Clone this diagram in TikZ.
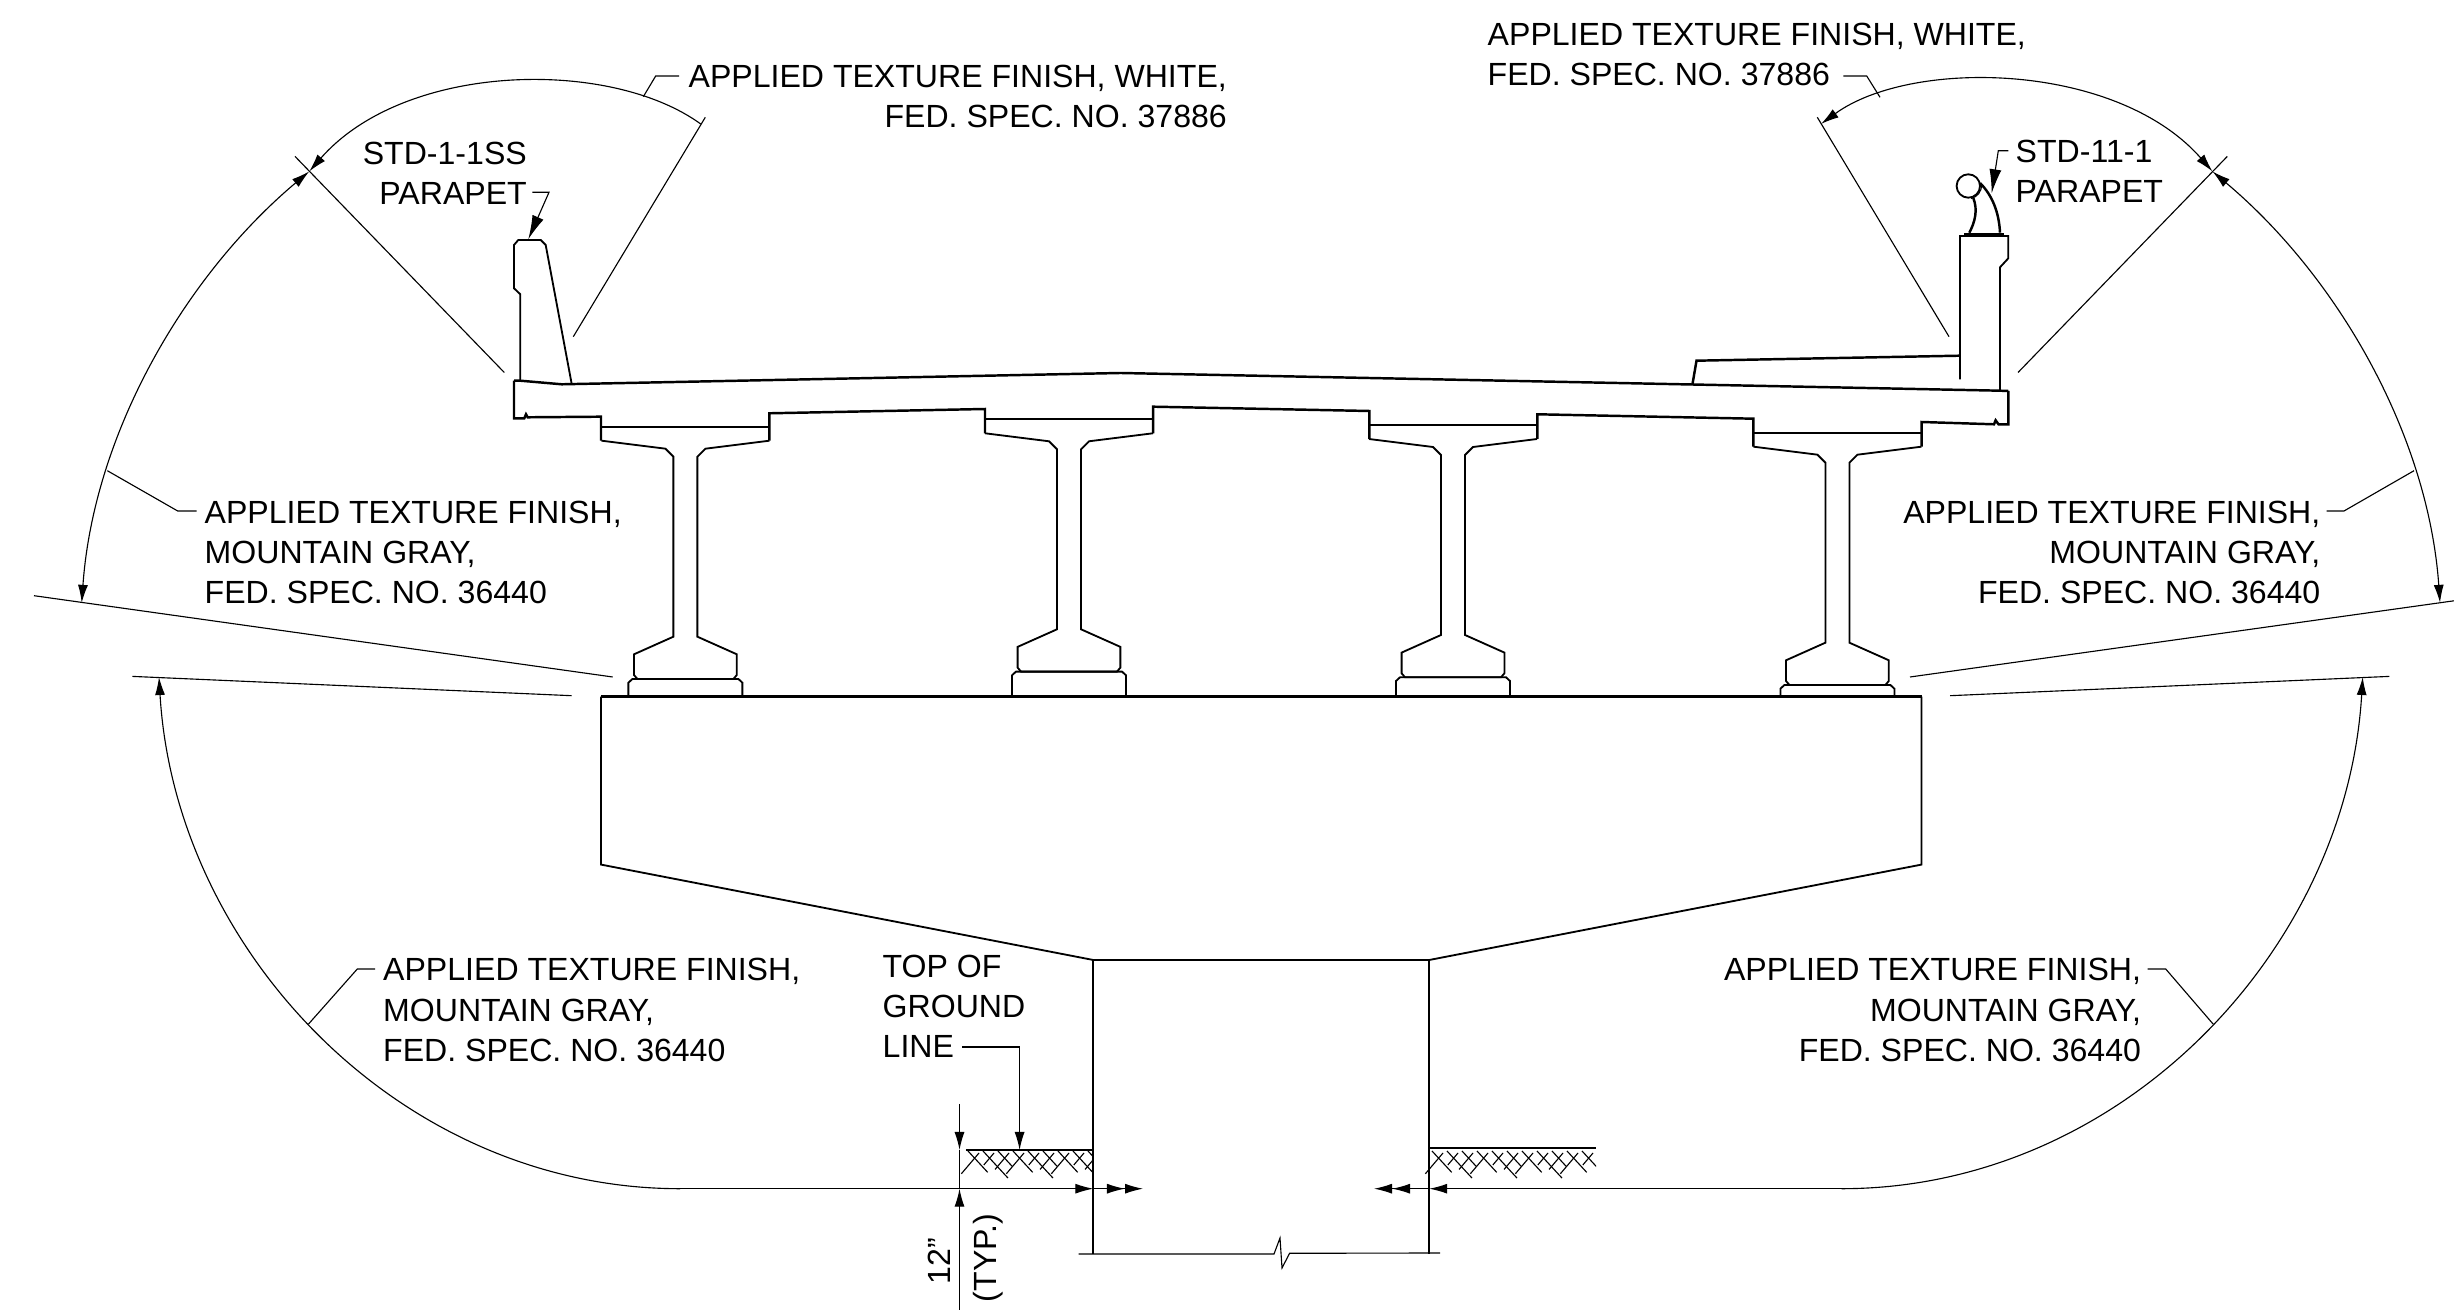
\documentclass[tikz,border=0pt]{standalone}
\usepackage{fontspec}
\setmainfont{Liberation Sans}
\usetikzlibrary{arrows.meta}

% one precast girder with its bearing pad, origin under the deck haunch
\newcommand{\girder}[2]{
    \begin{scope}[shift={(#1,#2)}]
        \pgfmathsetmacro{\padbase}{696.7-#2}
        \draw[outline] (-84,-14) -- (84,-14);
        \draw[outline] (-84,0) -- (-20,8) -- (-12,16) -- (-12,196) -- (-51.4,213.6)
            -- (-51.4,234.3) -- (-48,238.3) -- (48,238.3) -- (51.4,234.3) -- (51.4,213.6)
            -- (12,196) -- (12,16) -- (20,8) -- (84,0);
        \draw[outline] (-57,\padbase) -- (-57,242) -- (-53,238.3) -- (53,238.3) -- (57,242) -- (57,\padbase);
    \end{scope}
}
% hatching under a ground line
\newcommand{\groundhatch}[3]{
    \begin{scope}
        \clip (#1-8,1148) rectangle (#2,1180);
        \foreach \dx [count=\i] in {#1,#3,...,#2} {
            \pgfmathsetmacro{\len}{0.6+0.22*mod(\i,3)}
            \pgfmathsetmacro{\lenb}{0.6+0.22*mod(\i+1,3)}
            \draw[fine] (\dx,1151) -- ++(24*\len,26*\len);
            \draw[fine] (\dx+11,1153) -- ++(-17*\lenb,20*\lenb);
        }
    \end{scope}
}

\begin{document}
\begin{tikzpicture}[
    x=0.01cm, y=-0.01cm,
    >={Latex[length=1.8mm,width=1mm]},
    outline/.style={line width=0.52pt},
    heavy/.style={line width=0.7pt},
    fine/.style={line width=0.32pt},
    note/.style={font=\fontsize{9.12}{11.5}\selectfont, inner sep=0pt},
    pointer/.style={fine, -{Latex[length=2.4mm,width=1.2mm]}}
]
    \useasboundingbox (0,0) rectangle (2454,1310);

    % Deck
    \draw[heavy] (514,380.7) -- (520.3,380.7) -- (561.7,384.3) -- (1120.6,373) -- (2000,390.7) -- (2008.3,391);
    \draw[heavy] (514,380.7) -- (514,418.3) -- (524.3,418.3) -- (526,414.3) -- (527.7,417.3) -- (601,416.7) -- (601,440.7);
    \draw[heavy] (769.3,440.7) -- (769.3,413.3) -- (985,409) -- (985,433.3);
    \draw[heavy] (1153.2,433.3) -- (1153.2,406.7) -- (1369.3,411) -- (1369.3,439);
    \draw[heavy] (1537.4,439) -- (1537.4,414.3) -- (1753.3,418.7) -- (1753.3,446.7);
    \draw[heavy] (1921.5,446.7) -- (1921.5,422) -- (1994,424.3) -- (1995.6,420.3) -- (1998.5,424.3) -- (2008.3,424.5) -- (2008.3,391);
    \draw[heavy] (1692.5,384) -- (1696.5,360.7) -- (1960,355.7);

    % Parapets
    \draw[outline] (520.3,380.7) -- (520.3,294.3) -- (514,288.3) -- (514,245) -- (518.3,240)
        -- (540.7,240) -- (545.7,245) -- (571.7,384);
    \draw[outline] (1960,379.3) -- (1960,236) -- (2008.3,236) -- (2008.3,258.3) -- (2000,267.3) -- (2000,390.7);
    \draw[heavy] (1964,234) -- (2004.3,234);
    \draw[outline] (1968.3,186) circle (11.7);
    \draw[heavy] (2000,232.7) .. controls (1999,212) and (1992,195) .. (1980,183);
    \draw[heavy] (1969.3,232.7) .. controls (1975,222) and (1978,210) .. (1973.3,198);
    \draw[fine] (1981.5,184) .. controls (1982,192) and (1977,197) .. (1971,198.5);

    % Girders
    \girder{685.4}{440.7}
    \girder{1069}{433.3}
    \girder{1453}{439}
    \girder{1837.4}{446.7}

    % Pier
    \draw[heavy] (601,696.7) -- (1921.5,696.7);
    \draw[outline] (601,696.7) -- (601,864.6) -- (1093.3,960) -- (1429.2,960) -- (1921.5,864.6) -- (1921.5,696.7);
    \draw[outline] (1093.3,960) -- (1093.3,1254);
    \draw[outline] (1429.2,960) -- (1429.2,1254);
    \draw[fine] (1078.7,1254) -- (1274,1254) -- (1280,1238) -- (1282,1268) -- (1289.6,1253.3) -- (1440,1253);

    % Ground
    \draw[outline] (965.8,1150) -- (1093.3,1150);
    \draw[outline] (1429.2,1148.3) -- (1596.4,1148.3);
    \groundhatch{968}{1093}{983}
    \groundhatch{1432}{1596}{1447}

    % Extension lines
    \draw[fine] (295,156.4) -- (504.3,372.5);
    \draw[fine] (705.3,117.3) -- (573.3,336.7);
    \draw[fine] (34,595.7) -- (612.7,677);
    \draw[fine] (132.3,676.4) -- (571.7,695.7);
    \draw[fine] (2227.3,156.4) -- (2018,372.5);
    \draw[fine] (1817.3,117.3) -- (1949,336.7);
    \draw[fine] (2454,600.8) -- (1910,677);
    \draw[fine] (2389.4,676.4) -- (1950,695.7);

    % Finish zones, left
    \draw[fine, <->] (81.7,602.9) .. controls (93.5,435.2) and (183.5,277.1) .. (309.3,171.4);
    \draw[fine, <-] (309.3,171.4) .. controls (405,62) and (610,58) .. (700.7,124);
    \draw[fine, <-] (159,677) .. controls (175,950) and (400,1188.7) .. (680,1188.7);
    \draw[fine, ->] (680,1188.7) -- (1093.3,1188.7);
    \draw[fine, ->>] (1093.3,1188.7) -- (1143,1188.7);

    % Finish zones, right
    \draw[fine, <->] (2440,602.9) .. controls (2428.2,435.2) and (2338.2,277.1) .. (2212.4,171.4);
    \draw[fine, <->] (2212.4,171.4) .. controls (2116.7,62) and (1911.7,58) .. (1821,124);
    \draw[fine, <-] (2362.7,677) .. controls (2346.7,950) and (2121.7,1188.7) .. (1841.7,1188.7);
    \draw[fine, ->] (1841.7,1188.7) -- (1429.2,1188.7);
    \draw[fine, ->>] (1429.2,1188.7) -- (1374,1188.7);

    % Notes
    \node[note, align=right, anchor=base east] (whiteleft) at (1227.5,128) {APPLIED TEXTURE FINISH, WHITE,\\FED. SPEC. NO. 37886};
    \node[note, align=left, anchor=base west] (whiteright) at (1487,86) {APPLIED TEXTURE FINISH, WHITE,\\FED. SPEC. NO. 37886};
    \node[note, align=right, anchor=base east] (parapetleft) at (527.5,205) {STD-1-1SS\\PARAPET};
    \node[note, align=left, anchor=base west] (parapetright) at (2015,203) {STD-11-1\\PARAPET};
    \node[note, align=left, anchor=base west] (grayleft) at (204,604) {APPLIED TEXTURE FINISH,\\MOUNTAIN GRAY,\\FED. SPEC. NO. 36440};
    \node[note, align=right, anchor=base east] (grayright) at (2321,604) {APPLIED TEXTURE FINISH,\\MOUNTAIN GRAY,\\FED. SPEC. NO. 36440};
    \node[note, align=left, anchor=base west] (graylowleft) at (382.5,1061.5) {APPLIED TEXTURE FINISH,\\MOUNTAIN GRAY,\\FED. SPEC. NO. 36440};
    \node[note, align=right, anchor=base east] (graylowright) at (2141.7,1061.5) {APPLIED TEXTURE FINISH,\\MOUNTAIN GRAY,\\FED. SPEC. NO. 36440};
    \node[note, align=left, anchor=base west] (groundnote) at (882,1058) {TOP OF\\GROUND\\LINE};
    \node[note, rotate=90, anchor=base] (height) at (950,1261) {12"};
    \node[note, rotate=90, anchor=base] (typical) at (996,1258) {(TYP.)};

    % Leaders
    \coordinate (onarcleft) at (643.3,96.7);
    \coordinate (onarcright) at (1880,97.3);
    \coordinate (onsideleft) at (107.3,470.7);
    \coordinate (onsideright) at (2414,470.7);
    \coordinate (onlowleft) at (308.3,1024.3);
    \coordinate (onlowright) at (2213.3,1024.3);
    \draw[fine] (onarcleft) -- (655.7,76) -- (679,76);
    \draw[fine] (onarcright) -- (1866.7,76) -- (1843.3,76);
    \draw[fine] (onsideleft) -- (177.7,511) -- (196.7,511);
    \draw[fine] (onsideright) -- (2344,511) -- (2326.7,511);
    \draw[fine] (onlowleft) -- (357.3,969) -- (375,969);
    \draw[fine] (onlowright) -- (2165.7,969) -- (2147.7,969);
    \draw[pointer] (532.3,192.3) -- (549,192.3) -- (528.3,239.3);
    \draw[pointer] (2008.3,150.7) -- (1998.3,150.7) -- (1991.7,193.3);
    \draw[fine, ->] (962,1047) -- (1019.6,1047) -- (1019.6,1150);

    % Ground clearance
    \draw[fine, ->] (959.5,1104) -- (959.5,1150);
    \draw[fine] (959.5,1150) -- (959.5,1188.7);
    \draw[fine, ->] (959.5,1310) -- (959.5,1188.7);
\end{tikzpicture}
\end{document}
